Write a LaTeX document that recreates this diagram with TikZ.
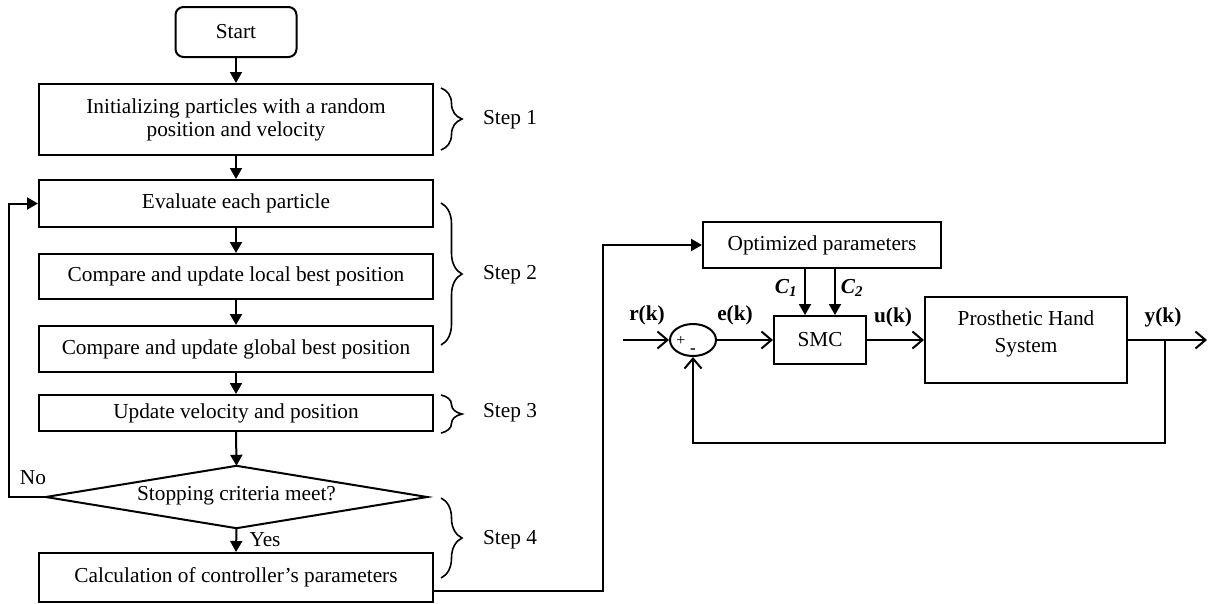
\documentclass[tikz,border=0pt]{standalone}
\usepackage{fontspec}
\setmainfont{Liberation Serif}
\usetikzlibrary{arrows.meta,decorations.pathreplacing,shapes.geometric,calc}
\begin{document}
\begin{tikzpicture}[x=1pt,y=-1pt,
 every node/.style={font=\fontsize{21.3}{24}\selectfont},
 box/.style={draw,line width=2pt,inner sep=0pt,align=center},
 fbox/.style={box,minimum width=394pt},
 tri/.style={line width=2pt,-{Triangle[length=11pt,width=12pt]}},
 barb/.style={line width=2pt,-{Straight Barb[length=10pt,width=17pt]}},
 ln/.style={line width=2pt},
 brc/.style={decorate,decoration={brace,amplitude=21pt,aspect=0.5},line width=1.6pt},
]
\useasboundingbox (0,0) rectangle (1208,603);

% flowchart
\node[box,rounded corners=8pt,minimum width=121pt,minimum height=50pt] (start) at (236,32) {Start};
\node[fbox,minimum height=71pt,font=\fontsize{21.3}{23}\selectfont] (init) at (236,119.5) {Initializing particles with a random\\position and velocity};
\node[fbox,minimum height=47pt] (eval) at (236,203.5) {Evaluate each particle};
\node[fbox,minimum height=45pt] (local) at (236,276.5) {Compare and update local best position};
\node[fbox,minimum height=46pt] (global) at (236,349) {Compare and update global best position};
\node[fbox,minimum height=36pt] (upd) at (236,413) {Update velocity and position};
\node[minimum width=381pt,minimum height=62pt,inner sep=0pt] (dia) at (236.5,497) {};
\draw[ln,line join=miter] (dia.west) -- (dia.north) -- (dia.east) -- (dia.south) -- cycle;
\node (diatext) at (236.5,495.5) {Stopping criteria meet?};
\node[fbox,minimum height=49pt] (calc) at (236,577.5) {Calculation of controller’s parameters};

\draw[tri] (start.south) -- (init.north);
\draw[tri] (init.south) -- (eval.north);
\draw[tri] (eval.south) -- (local.north);
\draw[tri] (local.south) -- (global.north);
\draw[tri] (global.south) -- (upd.north);
\draw[tri] (upd.south) -- (dia.north);
\draw[tri] (dia.south) -- (calc.north);
\node (yes) at (265,540) {Yes};
\coordinate (loopc) at (9,497);
\draw[tri] (dia.west) -- (loopc) |- (eval.west);
\node (no) at (33,478) {No};

% braces
\draw[brc] (441,88) -- (441,150);
\node (s1) at (510,120) {Step 1};
\draw[brc] (441,203) -- (441,345);
\node (s2) at (510,275) {Step 2};
\draw[brc] (441,395) -- (441,433);
\node (s3) at (510,413) {Step 3};
\draw[brc] (441,498) -- (441,578);
\node (s4) at (510,540) {Step 4};

% block diagram
\node[box,minimum width=238pt,minimum height=46pt] (opt) at (822,245) {Optimized parameters};
\node[box,minimum width=92pt,minimum height=48pt] (smc) at (820,340) {SMC};
\node[draw,ellipse,line width=2pt,minimum width=46pt,minimum height=32pt,inner sep=0pt] (sum) at (693,340) {};
\node[box,minimum width=202pt,minimum height=86pt] (ph) at (1026,340) {};
\node[align=center,font=\fontsize{21.3}{27}\selectfont] (phtext) at (1026,334) {Prosthetic Hand\\System};
\node[font=\fontsize{16}{16}\selectfont] (plus) at (681,341) {+};
\node[font=\bfseries\fontsize{17}{17}\selectfont] (minus) at (693,351) {-};

\coordinate (rin) at (623,340);
\coordinate (yout) at (1207,340);
\coordinate (br) at (1165,340);
\coordinate (fb) at (1165,443);
\coordinate (cj) at (603,591);

\draw[barb] (rin) -- (sum.west);
\draw[barb] (sum.east) -- (smc.west);
\draw[barb] (smc.east) -- (ph.west);
\draw[barb] (ph.east) -- (yout);
\draw[barb] (br) -- (fb) -| (sum.south);
\draw[tri] ([xshift=-17pt]opt.south) -- ([xshift=-15pt]smc.north);
\draw[tri] ([xshift=13pt]opt.south) -- ([xshift=15pt]smc.north);
\draw[tri] ([yshift=-13.5pt]calc.east) -- (cj) |- (opt.west);

\node (rk) at (647,315) {\textbf{r(k)}};
\node (ek) at (735,315) {\textbf{e(k)}};
\node (uk) at (893,317) {\textbf{u(k)}};
\node (yk) at (1163,317) {\textbf{y(k)}};
\node (c1) at (786,288) {\textbf{\textit{C\textsubscript{1}}}};
\node (c2) at (852,288) {\textbf{\textit{C\textsubscript{2}}}};
\end{tikzpicture}
\end{document}
